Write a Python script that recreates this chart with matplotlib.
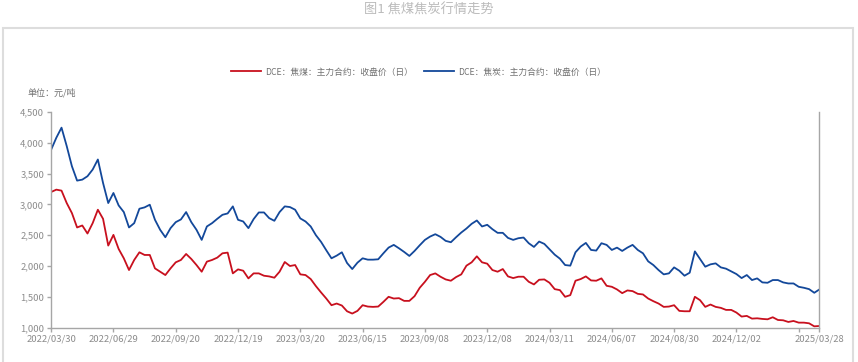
'''
    焦煤焦炭行情走势 line chart
'''

import numpy as np
import matplotlib
matplotlib.use('Agg')
from matplotlib import pyplot as plt
from matplotlib.ticker import FuncFormatter
from matplotlib.patches import Rectangle

plt.rcParams['font.family'] = ['Noto Sans CJK SC', 'DejaVu Sans']

# data, roughly weekly samples
coal = [3201, 3239, 3223, 3022, 2860, 2627, 2659, 2529, 2697, 2914,
        2767, 2334, 2507, 2280, 2128, 1938, 2101, 2225, 2182, 2182,
        1965, 1911, 1857, 1965, 2063, 2101, 2198, 2117, 2019, 1911,
        2074, 2101, 2139, 2209, 2220, 1884, 1949, 1927, 1803, 1884,
        1884, 1846, 1835, 1814, 1911, 2068, 2003, 2019, 1868, 1857,
        1792, 1678, 1575, 1477, 1369, 1396, 1364, 1271, 1234, 1277,
        1369, 1347, 1342, 1347, 1423, 1505, 1477, 1483, 1439, 1439,
        1515, 1651, 1748, 1857, 1884, 1830, 1786, 1765, 1824, 1868,
        2009, 2063, 2160, 2063, 2041, 1938, 1911, 1954, 1835, 1808,
        1830, 1830, 1748, 1705, 1781, 1786, 1732, 1629, 1613, 1505,
        1532, 1765, 1792, 1835, 1770, 1765, 1803, 1683, 1667, 1624,
        1564, 1608, 1597, 1553, 1543, 1477, 1434, 1396, 1342, 1347,
        1369, 1277, 1271, 1271, 1505, 1450, 1342, 1380, 1342, 1326,
        1293, 1293, 1250, 1185, 1196, 1152, 1157, 1147, 1141, 1174,
        1130, 1125, 1098, 1114, 1087, 1087, 1076, 1027, 1033]

coke = [3885, 4079, 4242, 3944, 3618, 3385, 3401, 3456, 3564, 3727,
        3347, 3022, 3185, 2984, 2876, 2627, 2697, 2930, 2952, 2995,
        2751, 2589, 2469, 2616, 2713, 2757, 2876, 2713, 2589, 2426,
        2643, 2697, 2767, 2832, 2854, 2968, 2751, 2724, 2616, 2762,
        2870, 2870, 2778, 2735, 2876, 2968, 2957, 2914, 2773, 2724,
        2643, 2502, 2393, 2258, 2128, 2171, 2225, 2052, 1954, 2057,
        2128, 2106, 2106, 2112, 2209, 2301, 2345, 2290, 2231, 2166,
        2247, 2339, 2426, 2480, 2518, 2475, 2410, 2388, 2469, 2545,
        2610, 2686, 2740, 2643, 2670, 2599, 2540, 2540, 2458, 2426,
        2453, 2464, 2372, 2312, 2399, 2361, 2274, 2187, 2122, 2019,
        2009, 2225, 2318, 2377, 2263, 2253, 2372, 2345, 2263, 2301,
        2247, 2301, 2345, 2263, 2209, 2079, 2019, 1938, 1868, 1884,
        1981, 1927, 1846, 1895, 2240, 2117, 1992, 2030, 2046, 1981,
        1960, 1917, 1873, 1808, 1857, 1776, 1803, 1738, 1732, 1776,
        1776, 1738, 1721, 1721, 1667, 1651, 1629, 1570, 1625]

tick_labels = ['2022/03/30', '2022/06/29', '2022/09/20', '2022/12/19',
               '2023/03/20', '2023/06/15', '2023/09/08', '2023/12/08',
               '2024/03/11', '2024/06/07', '2024/08/30', '2024/12/02',
               '', '2025/03/28']

labels = ['DCE：焦煤：主力合约：收盘价（日）', 'DCE：焦炭：主力合约：收盘价（日）']

RED = '#C8101E'
BLUE = '#13489A'
AXIS = '#A6A6A6'
TEXT = '#8C8C8C'

x = np.arange(len(coal))
tick_pos = list(range(0, 145, 12)) + [len(coal) - 1]

fig = plt.figure(figsize=(8.58, 3.62), dpi=100)
ax = fig.add_axes([0.0596, 0.0939, 0.8955, 0.5975])

ax.plot(x, coal, color=RED, lw=1.3, label=labels[0])
ax.plot(x, coke, color=BLUE, lw=1.3, label=labels[1])

ax.set_xlim(0, len(coal) - 1)
ax.set_ylim(1000, 4500)
ax.set_yticks(range(1000, 4501, 500))
ax.yaxis.set_major_formatter(FuncFormatter(lambda v, p: '{:,.0f}'.format(v)))
ax.set_xticks(tick_pos)
ax.set_xticklabels(tick_labels)

for s in ['left', 'bottom', 'right']:
    ax.spines[s].set_color(AXIS)
    ax.spines[s].set_linewidth(1.0)
ax.spines['top'].set_visible(False)
ax.tick_params(axis='both', colors=AXIS, labelcolor=TEXT, labelsize=6.8,
               length=3, width=1.0, pad=2)

# legend and unit
fig.legend(loc='center', bbox_to_anchor=(0.488, 0.801), ncol=2, frameon=False,
           fontsize=6.3, labelcolor='#707070', handlelength=3.4,
           handletextpad=0.45, columnspacing=1.3)
fig.text(27 / 858, 1 - 93 / 362, '单位：元/吨', fontsize=6.5, color='#707070',
         va='center', ha='left')

# title and outer frame
fig.text(0.5, 1 - 10 / 362, '图1 焦煤焦炭行情走势', fontsize=9.5, color='#BBBBBB',
         ha='center', va='center')
fig.patches.append(Rectangle((2.5 / 858, -0.1), 850 / 858, 1.1 - 28 / 362,
                             transform=fig.transFigure, fill=False,
                             edgecolor='#DDDDDD', lw=1.5, clip_on=False))

fig.savefig('out.png', dpi=100)
